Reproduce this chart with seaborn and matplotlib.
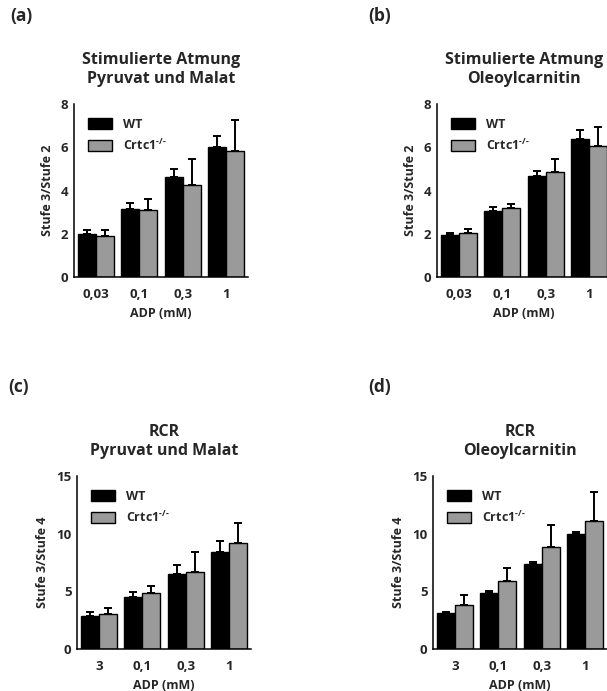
import numpy as np
import pandas as pd
import seaborn as sns
import matplotlib.pyplot as plt

sns.set_style("white")
plt.rcParams['font.family'] = ['Open Sans', 'DejaVu Sans']
plt.rcParams['font.weight'] = 'bold'
plt.rcParams['mathtext.fontset'] = 'custom'
plt.rcParams['mathtext.rm'] = 'Open Sans:bold'
plt.rcParams['mathtext.default'] = 'rm'

groups = ["WT", r"Crtc1$^{\text{-/-}}$"]
adp_top = ["0,03", "0,1", "0,3", "1"]
adp_bottom = ["3", "0,1", "0,3", "1"]

# (a) stimulated respiration, pyruvate + malate
a_wt = [1.99, 3.16, 4.62, 6.02]
a_wt_err = [0.17, 0.26, 0.37, 0.51]
a_ko = [1.88, 3.10, 4.25, 5.84]
a_ko_err = [0.28, 0.51, 1.20, 1.40]

# (b) stimulated respiration, oleoylcarnitine
b_wt = [1.96, 3.05, 4.67, 6.38]
b_wt_err = [0.07, 0.17, 0.23, 0.43]
b_ko = [2.03, 3.17, 4.84, 6.07]
b_ko_err = [0.19, 0.22, 0.60, 0.88]

# (c) RCR, pyruvate + malate
c_wt = [2.86, 4.48, 6.53, 8.44]
c_wt_err = [0.35, 0.46, 0.72, 0.92]
c_ko = [3.01, 4.86, 6.71, 9.22]
c_ko_err = [0.57, 0.60, 1.67, 1.73]

# (d) RCR, oleoylcarnitine
d_wt = [3.12, 4.86, 7.37, 10.00]
d_wt_err = [0.09, 0.14, 0.17, 0.14]
d_ko = [3.79, 5.92, 8.87, 11.13]
d_ko_err = [0.89, 1.07, 1.91, 2.48]

panels = [
    ("(a)", "Stimulierte Atmung\nPyruvat und Malat", "Stufe 3/Stufe 2", adp_top,
     a_wt, a_wt_err, a_ko, a_ko_err, 8, [0, 2, 4, 6, 8]),
    ("(b)", "Stimulierte Atmung\nOleoylcarnitin", "Stufe 3/Stufe 2", adp_top,
     b_wt, b_wt_err, b_ko, b_ko_err, 8, [0, 2, 4, 6, 8]),
    ("(c)", "RCR\nPyruvat und Malat", "Stufe 3/Stufe 4", adp_bottom,
     c_wt, c_wt_err, c_ko, c_ko_err, 15, [0, 5, 10, 15]),
    ("(d)", "RCR\nOleoylcarnitin", "Stufe 3/Stufe 4", adp_bottom,
     d_wt, d_wt_err, d_ko, d_ko_err, 15, [0, 5, 10, 15]),
]

W, H = 607, 691
fig = plt.figure(figsize=(W / 100, H / 100), dpi=100)

# axes boxes in pixels: left, top(y=max), bottom(y=0)
boxes = [(74, 104, 277), (437, 104, 277), (77, 476, 649), (433, 476, 649)]
label_pos = [(10, 16), (368, 16), (8, 387), (368, 387)]
ax_w = 174
fs = 9

for (tag, title, ylab, cats, wt, wt_err, ko, ko_err, ymax, yt), (l, t, b), (lx, ly) in zip(panels, boxes, label_pos):
    ax = fig.add_axes([l / W, 1 - b / H, ax_w / W, (b - t) / H])
    df = pd.DataFrame({
        "ADP": cats * 2,
        "value": wt + ko,
        "err": wt_err + ko_err,
        "group": [groups[0]] * 4 + [groups[1]] * 4,
    })
    sns.barplot(data=df, x="ADP", y="value", hue="group", order=cats,
                palette=["black", "#9a9a9a"], edgecolor="black", linewidth=1.0,
                width=0.82, gap=0, errorbar=None, ax=ax)
    for cont, g in zip(ax.containers, groups):
        sub = df[df["group"] == g]
        xs = [p.get_x() + p.get_width() / 2 for p in cont.patches]
        ax.errorbar(xs, sub["value"].values,
                    yerr=[np.zeros(len(xs)), sub["err"].values],
                    fmt="none", ecolor="black", elinewidth=1.4,
                    capsize=2.8, capthick=1.4, zorder=1)
    ax.set_xlim(-0.5, 3.5)
    ax.set_ylim(0, ymax)
    ax.set_yticks(yt)
    ax.set_title(title, fontsize=11.5, fontweight="bold", pad=15, linespacing=1.3)
    ax.set_ylabel(ylab, fontsize=fs, fontweight="bold", labelpad=5)
    ax.set_xlabel("ADP (mM)", fontsize=fs, fontweight="bold", labelpad=4)
    ax.tick_params(axis="y", direction="out", length=3, width=1.1, labelsize=fs + 0.5, pad=1)
    ax.tick_params(axis="x", length=0, labelsize=fs + 0.5, pad=8)
    for lbl in ax.get_xticklabels() + ax.get_yticklabels():
        lbl.set_fontweight("bold")
    sns.despine(ax=ax)
    for s in ["left", "bottom"]:
        ax.spines[s].set_linewidth(1.1)
        ax.spines[s].set_color("black")
    ax.legend(loc="upper left", frameon=False, handlelength=1.9,
              handleheight=1.0, handletextpad=0.9, labelspacing=0.55,
              borderaxespad=0.7, borderpad=0.4,
              prop={"weight": "bold", "size": fs})
    fig.text(lx / W, 1 - ly / H, tag, fontsize=12.5, fontweight="bold",
             ha="left", va="center")

fig.savefig("out.png", dpi=100)
